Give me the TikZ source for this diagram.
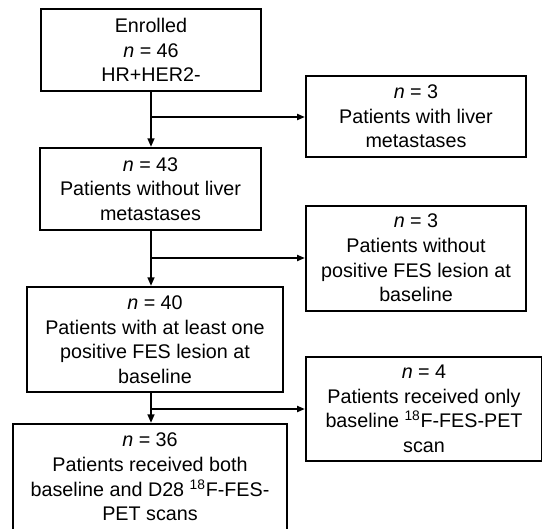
\documentclass[tikz,border=0pt]{standalone}
\usepackage{fontspec}
\setmainfont{Liberation Sans}
\usetikzlibrary{arrows.meta}
\newcommand{\nn}[1]{\textit{n} = #1}
\begin{document}
\begin{tikzpicture}[x=0.75pt, y=-0.75pt,
  every node/.style={font=\fontsize{14.8}{18.4}\selectfont},
  flowbox/.style={draw, line width=1.5pt, align=center, inner sep=0pt},
  mainline/.style={line width=2.2pt, -{Triangle[length=6.5pt,width=5pt]}},
  sideline/.style={line width=1.6pt, -{Triangle[length=6pt,width=4.5pt]}}]
  \useasboundingbox (0,0) rectangle (542,528);
  % left column
  \node[flowbox, minimum width=165pt, minimum height=60.75pt] (enrol) at (151,50)
    {Enrolled\\\nn{46}\\HR+HER2-};
  \node[flowbox, minimum width=165.75pt, minimum height=61.5pt] (nolvr) at (150.5,189)
    {\nn{43}\\Patients without liver\\metastases};
  \node[flowbox, minimum width=192pt, minimum height=78.75pt] (fespos) at (155,339.5)
    {\nn{40}\\Patients with at least one\\positive FES lesion at\\baseline};
  \node[flowbox, minimum width=205.5pt, minimum height=79.5pt] (both) at (150,477)
    {\nn{36}\\Patients received both\\baseline and D28 \textsuperscript{18}F-FES-\\PET scans};
  % right column
  \node[flowbox, minimum width=165pt, minimum height=60.75pt] (lvr) at (416,116.5)
    {\nn{3}\\Patients with liver\\metastases};
  \node[flowbox, minimum width=165pt, minimum height=78.75pt] (nofes) at (416,258)
    {\nn{3}\\Patients without\\positive FES lesion at\\baseline};
  \node[flowbox, minimum width=177pt, minimum height=78pt] (onlybase) at (424,409)
    {\nn{4}\\Patients received only\\baseline \textsuperscript{18}F-FES-PET\\scan};
  % connectors
  \coordinate (b1) at (151,117);
  \coordinate (b2) at (151,258);
  \coordinate (b3) at (151,409);
  \draw[mainline] (enrol.south -| b1) -- (nolvr.north -| b1);
  \draw[mainline] (nolvr.south -| b2) -- (fespos.north -| b2);
  \draw[mainline] (fespos.south -| b3) -- (both.north -| b3);
  \draw[sideline] (b1) -- (b1 -| lvr.west);
  \draw[sideline] (b2) -- (b2 -| nofes.west);
  \draw[sideline] (b3) -- (b3 -| onlybase.west);
\end{tikzpicture}
\end{document}
